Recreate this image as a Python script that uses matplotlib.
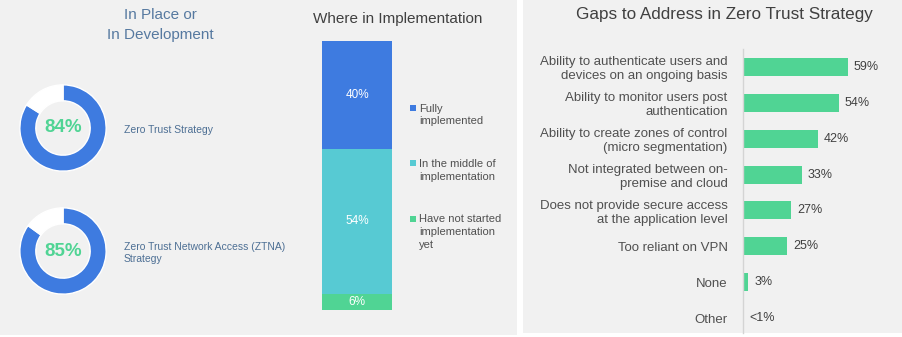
import matplotlib
matplotlib.use("Agg")
import matplotlib.pyplot as plt
from matplotlib.patches import Rectangle

plt.rcParams["font.family"] = ["Liberation Sans", "DejaVu Sans"]

# --- data ---
donut_labels = ["Zero Trust Strategy", "Zero Trust Network Access (ZTNA)\nStrategy"]
donut_values = [84, 85]

impl_labels = ["Fully\nimplemented", "In the middle of\nimplementation",
               "Have not started\nimplementation\nyet"]
impl_values = [40, 54, 6]

gap_labels = ["Ability to authenticate users and\ndevices on an ongoing basis",
              "Ability to monitor users post\nauthentication",
              "Ability to create zones of control\n(micro segmentation)",
              "Not integrated between on-\npremise and cloud",
              "Does not provide secure access\nat the application level",
              "Too reliant on VPN",
              "None",
              "Other"]
gap_values = [59, 54, 42, 33, 27, 25, 3, 0]
gap_text = ["59%", "54%", "42%", "33%", "27%", "25%", "3%", "<1%"]

BLUE = "#3e7be0"
TEAL = "#57cad3"
GREEN = "#50d494"
PANEL = "#f1f1f1"
impl_colors = [BLUE, TEAL, GREEN]

W, H = 902, 337
fig = plt.figure(figsize=(W / 100, H / 100), dpi=100, facecolor="white")


def px(x0, y0, x1, y1):
    return [x0 / W, 1 - y1 / H, (x1 - x0) / W, (y1 - y0) / H]


# panel backgrounds
fig.add_artist(Rectangle((0, 1 - 335 / H), 517 / W, 335 / H, transform=fig.transFigure,
                         facecolor=PANEL, edgecolor="none", zorder=-5))
fig.add_artist(Rectangle((523 / W, 1 - 333 / H), (902 - 523) / W, 333 / H,
                         transform=fig.transFigure, facecolor=PANEL, edgecolor="none", zorder=-5))

# --- donuts ---
fig.text(160 / W, 1 - 25 / H, "In Place or\nIn Development", ha="center", va="center",
         fontsize=11, color="#5679a0", linespacing=1.6)
for i, (lab, v) in enumerate(zip(donut_labels, donut_values)):
    cy = 128 + i * 123
    ax = fig.add_axes(px(19, cy - 44, 107, cy + 44))
    ax.pie([v, 100 - v], colors=[BLUE, "white"], startangle=90, counterclock=False,
           radius=1, wedgeprops=dict(width=0.37, edgecolor="white", linewidth=1))
    ax.set_xlim(-1.02, 1.02)
    ax.set_ylim(-1.02, 1.02)
    ax.axis("off")
    ax.text(0, 0, f"{v}%", ha="center", va="center", fontsize=13.5, fontweight="bold",
            color=GREEN)
    fig.text(124 / W, 1 - (cy + 2) / H, lab, ha="left", va="center", fontsize=7.5,
             color="#4d6f94", linespacing=1.3)

# --- stacked bar ---
fig.text(398 / W, 1 - 19 / H, "Where in Implementation", ha="center", va="center",
         fontsize=11, color="#404040")
axb = fig.add_axes(px(322, 41, 392, 310))
bottom = 0
for v, c in zip(impl_values, impl_colors):
    axb.bar(0, v, bottom=bottom, width=1, color=c, edgecolor="none")
    axb.text(0, bottom + v / 2, f"{v}%", ha="center", va="center", fontsize=8.5,
             color="white")
    bottom += v
axb.set_xlim(-0.5, 0.5)
axb.set_ylim(100, 0)
axb.axis("off")

for i, (lab, c) in enumerate(zip(impl_labels, impl_colors)):
    ty = 103.5 + i * 55.5
    fig.add_artist(Rectangle((410 / W, 1 - (ty + 7) / H), 6 / W, 6 / H,
                             transform=fig.transFigure, facecolor=c, edgecolor="none"))
    fig.text(419 / W, 1 - ty / H, lab, ha="left", va="top", fontsize=8,
             color="#505050", linespacing=1.35)

# --- gaps bar chart ---
fig.text(724 / W, 1 - 15 / H, "Gaps to Address in Zero Trust Strategy", ha="center",
         va="center", fontsize=12.3, color="#404040")
axg = fig.add_axes(px(743, 49, 885, 336))
ypos = list(range(len(gap_values)))
axg.barh(ypos, gap_values, height=0.5, color=GREEN, edgecolor="none")
for y, v, t in zip(ypos, gap_values, gap_text):
    axg.text(v + 3.4, y, t, ha="left", va="center", fontsize=9, color="#404040")
axg.set_xlim(0, 80)
axg.set_ylim(7.5, -0.5)
axg.set_yticks(ypos)
axg.set_yticklabels(gap_labels, fontsize=9.5, color="#505050", ha="right")
axg.tick_params(axis="y", length=0, pad=11)
axg.set_xticks([])
axg.set_facecolor("none")
for s in ["top", "right", "bottom"]:
    axg.spines[s].set_visible(False)
axg.spines["left"].set_color("#d4d4d4")
axg.spines["left"].set_linewidth(1)
axg.spines["left"].set_bounds(7.42, -0.5)

fig.savefig("out.png", dpi=100, facecolor="white")
